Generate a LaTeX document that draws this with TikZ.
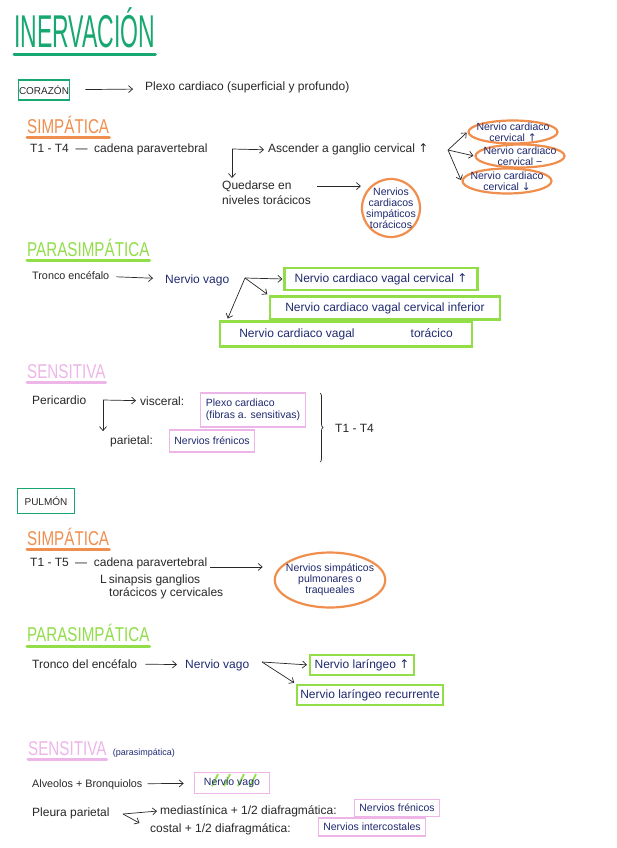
\documentclass[tikz,border=0pt]{standalone}
\usepackage{fontspec}
\setmainfont{Liberation Sans}
\newfontfamily\headfont[FakeStretch=0.76]{Liberation Sans}
\newfontfamily\titlefont[FakeStretch=0.5]{Liberation Sans}
\newfontfamily\symfont{DejaVu Sans}
\usepackage{tikz}
\usetikzlibrary{arrows.meta,positioning,calc,shapes.geometric,decorations.pathreplacing}
\definecolor{titlegreen}{RGB}{22,168,112}
\definecolor{simporange}{RGB}{240,142,78}
\definecolor{paragreen}{RGB}{145,222,72}
\definecolor{senspink}{RGB}{238,182,232}
\definecolor{inkblue}{RGB}{32,42,112}
\definecolor{inkgray}{RGB}{40,40,40}
\newcommand{\arrup}{{\symfont ↑}}
\newcommand{\arrdown}{{\symfont ↓}}

\begin{document}
\begin{tikzpicture}[x=1pt,y=-1pt,>={Straight Barb[length=4pt,width=7pt]},
    every node/.style={inner sep=0pt},
    txt/.style={anchor=base west,text=inkgray,font=\fontsize{12}{15}\selectfont},
    apretado/.style={font=\fontsize{10.8}{13}\selectfont},
    azul/.style={txt,text=inkblue},
    head/.style={anchor=base west,font=\headfont\fontsize{20}{20}\selectfont},
    org/.style={draw=titlegreen,line width=1.6pt,text=inkgray,font=\fontsize{10}{10}\selectfont},
    oval/.style={ellipse,draw=simporange,line width=2.2pt,text=inkblue,align=center,inner sep=-5pt,font=\fontsize{10.5}{11}\selectfont},
    vbox/.style={draw=paragreen,line width=2.2pt,text=inkblue,font=\fontsize{12}{14}\selectfont},
    pbox/.style={draw=senspink,line width=1.6pt,text=inkblue,align=left,font=\fontsize{10.5}{12.5}\selectfont},
    flecha/.style={->,draw=inkgray,line width=0.7pt},
    subr/.style={line width=3pt,line cap=round}]
  \fill[white] (0,0) rectangle (617,848);
  \useasboundingbox (0,0) rectangle (617,848);

  % titulo
  \node[anchor=base west,text=titlegreen,font=\titlefont\fontsize{46}{46}\selectfont] (titulo) at (14,48) {INERVACIÓN};
  \draw[subr,titlegreen] ([yshift=-7pt]titulo.base west) -- ([yshift=-7pt]titulo.base east);

  % corazon
  \node[org,minimum width=51pt,minimum height=20pt] (corazon) at (44,90) {CORAZÓN};
  \node[txt] (plexo) at (145,91) {Plexo cardiaco (superficial y profundo)};
  \draw[flecha,shorten <=15pt,shorten >=12pt] (corazon) -- (plexo);

  % simpatica
  \node[head,text=simporange] (simp1) at (27,133) {SIMPÁTICA};
  \draw[subr,simporange] ([yshift=-4pt]simp1.base west) -- ([yshift=-4pt]simp1.base east);
  \node[txt] (t1t4) at (30,153) {T1 - T4 \ — \ cadena paravertebral};
  \node[txt] (ascender) at (268,153) {Ascender a ganglio cervical \arrup};
  \node[txt,anchor=north west,align=left] (quedarse) at (222,181) {Quedarse en\\niveles torácicos};
  \coordinate (codo1) at (232,149);
  \draw[flecha,shorten >=4pt] (codo1) -- (ascender.west);
  \draw[flecha,shorten >=3pt] (codo1) -- (codo1 |- quedarse.north);
  \node[oval,minimum width=84pt,minimum height=23pt] (ncc1) at (513,132) {Nervio cardiaco\\cervical \arrup};
  \node[oval,minimum width=85pt,minimum height=23pt] (ncc2) at (520,156) {Nervio cardiaco\\cervical −};
  \node[oval,minimum width=84pt,minimum height=25pt] (ncc3) at (507,181) {Nervio cardiaco\\cervical \arrdown};
  \coordinate (rama1) at (448,150);
  \foreach \n in {ncc1,ncc2,ncc3} \draw[flecha,shorten >=1pt] (rama1) -- (\n.west);
  \node[oval,minimum width=58pt,minimum height=58pt] (ncst) at (391,208) {Nervios\\cardiacos\\simpáticos\\torácicos};
  \draw[flecha] ([xshift=6pt,yshift=7pt]quedarse.east) -- ([yshift=7pt]quedarse.east -| ncst.west);

  % parasimpatica
  \node[head,text=paragreen] (para1) at (27,256) {PARASIMPÁTICA};
  \draw[subr,paragreen] ([yshift=-4pt]para1.base west) -- ([yshift=-4pt]para1.base east);
  \node[txt,apretado] (tronco1) at (32,279) {Tronco encéfalo};
  \node[azul] (vago1) at (165,283) {Nervio vago};
  \draw[flecha,shorten <=7pt,shorten >=12pt] (tronco1) -- (vago1);
  \node[vbox,minimum width=193pt,minimum height=22pt] (ncv1) at (381,279) {Nervio cardiaco vagal cervical \arrup};
  \node[vbox,minimum width=230pt,minimum height=23pt] (ncv2) at (385,308) {Nervio cardiaco vagal cervical inferior};
  \node[vbox,minimum width=252pt,minimum height=25pt] (ncv3) at (346,334) {Nervio cardiaco vagal\hspace{56pt}torácico};
  \coordinate (rama2) at (245,278);
  \draw[flecha,shorten >=1pt] (rama2) -- (ncv1.west);
  \draw[flecha,shorten >=2pt] (rama2) -- (ncv2.north west);
  \draw[flecha,shorten >=2pt] (rama2) -- ([xshift=8pt]ncv3.north west);

  % sensitiva
  \node[head,text=senspink] (sens1) at (27,378) {SENSITIVA};
  \draw[subr,senspink] ([yshift=-4pt]sens1.base west) -- ([yshift=-4pt]sens1.base east);
  \node[txt] (pericardio) at (32,404) {Pericardio};
  \node[txt] (visceral) at (140,405) {visceral:};
  \node[txt] (parietal) at (110,444) {parietal:};
  \node[pbox,minimum width=105pt,minimum height=34pt] (plexoc) at (253,410) {Plexo cardiaco\\(fibras a. sensitivas)};
  \node[pbox,minimum width=85pt,minimum height=22pt] (frenicos1) at (212,441) {Nervios frénicos};
  \coordinate (codo2) at (103,400);
  \draw[flecha,shorten >=4pt] (codo2) -- (visceral.west);
  \draw[flecha,shorten >=4pt] (codo2) -- (codo2 |- parietal.north);
  \draw[inkgray,line width=0.7pt,decorate,decoration={brace,amplitude=3pt}] (320,393) -- (320,462);
  \node[txt] (t1t4b) at (335,432) {T1 - T4};

  % pulmon
  \node[org,minimum width=57pt,minimum height=25pt] (pulmon) at (46,501) {PULMÓN};

  % simpatica
  \node[head,text=simporange] (simp2) at (27,545) {SIMPÁTICA};
  \draw[subr,simporange] ([yshift=-4pt]simp2.base west) -- ([yshift=-4pt]simp2.base east);
  \node[txt] (t1t5) at (30,566) {T1 - T5};
  \node[txt] (cadena2) at (75,566) {— \ cadena paravertebral};
  \node[txt,anchor=north west,align=left] (sinapsis) at (100,575) {L\,sinapsis ganglios\\[-2pt]\hspace*{9pt}torácicos y cervicales};
  \node[oval,minimum width=100pt,minimum height=55pt] (nsp) at (330,580) {Nervios simpáticos\\pulmonares o\\traqueales};
  \draw[flecha,shorten >=11pt] ([xshift=3pt,yshift=-4pt]cadena2.east) -- ([yshift=-4pt]cadena2.east -| nsp.west);

  % parasimpatica
  \node[head,text=paragreen] (para2) at (27,641) {PARASIMPÁTICA};
  \draw[subr,paragreen] ([yshift=-5pt]para2.base west) -- ([yshift=-5pt]para2.base east);
  \node[txt] (tronco2) at (32,668) {Tronco del encéfalo};
  \node[azul] (vago2) at (185,668) {Nervio vago};
  \draw[flecha,shorten <=8pt,shorten >=8pt] (tronco2) -- (vago2);
  \node[vbox,minimum width=104pt,minimum height=20pt] (nl1) at (362,665) {Nervio laríngeo \arrup};
  \node[vbox,minimum width=146pt,minimum height=20pt] (nl2) at (370,695) {Nervio laríngeo recurrente};
  \coordinate (rama3) at (262,662);
  \draw[flecha,shorten >=2pt] (rama3) -- (nl1.west);
  \draw[flecha,shorten >=2pt] (rama3) -- (nl2.north west);

  % sensitiva
  \node[head,text=senspink] (sens2) at (28,755) {SENSITIVA};
  \draw[subr,senspink] ([yshift=-4pt]sens2.base west) -- ([yshift=-4pt]sens2.base east);
  \node[azul,font=\fontsize{9}{11}\selectfont,right=6pt of sens2.base east,anchor=base west] (parasn) {(parasimpática)};
  \node[txt,apretado] (alveolos) at (32,787) {Alveolos + Bronquiolos};
  \foreach \dx in {-20,-8,6,18} \draw[paragreen,line width=1.8pt] (232+\dx,786) -- ++(6,-12);
  \node[pbox,minimum width=75pt,minimum height=21pt] (nvs) at (232,783) {Nervio vago};
  \draw[flecha,shorten <=5pt,shorten >=10pt] (alveolos) -- (nvs);
  \node[txt] (pleura) at (32,816) {Pleura parietal};
  \node[txt] (mediast) at (160,814) {mediastínica + 1/2 diafragmática:};
  \node[txt] (costal) at (150,832) {costal + 1/2 diafragmática:};
  \node[pbox,minimum width=85pt,minimum height=17pt] (frenicos2) at (397,808) {Nervios frénicos};
  \node[pbox,minimum width=107pt,minimum height=18pt] (intercost) at (372,827) {Nervios intercostales};
  \coordinate (rama4) at (123,814);
  \draw[flecha,shorten >=3pt] (rama4) -- (mediast.west);
  \draw[flecha,shorten >=12pt] (rama4) -- (costal.west);
\end{tikzpicture}
\end{document}
